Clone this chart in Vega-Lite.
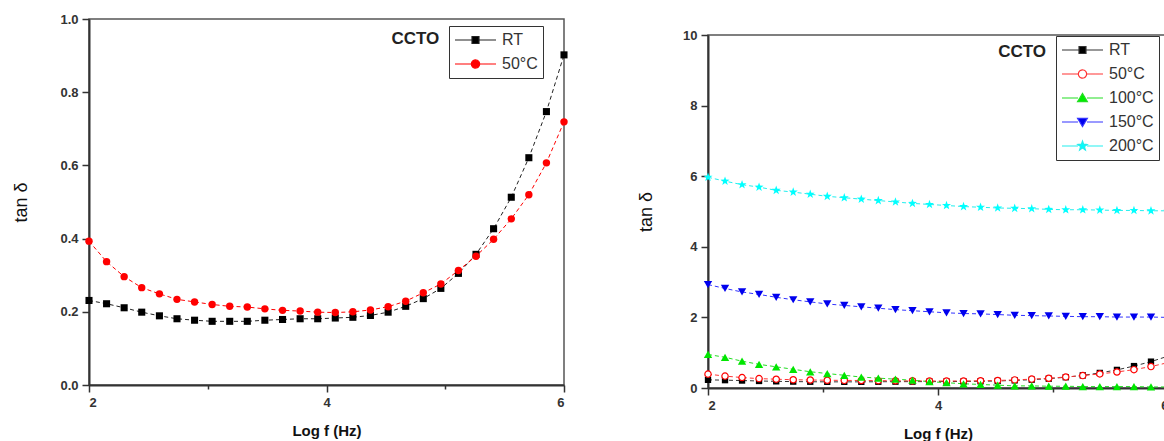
{
  "$schema": "https://vega.github.io/schema/vega-lite/v6.json",
  "padding": {"left": 12, "top": 12, "right": 0, "bottom": 0},
  "background": "white",
  "config": {
    "font": "Liberation Sans",
    "view": {"stroke": "#555", "strokeWidth": 1.5},
    "axis": {
      "grid": false,
      "domainColor": "#333",
      "domainWidth": 2,
      "tickColor": "#333",
      "tickWidth": 1.5,
      "labelFont": "Liberation Sans",
      "labelFontWeight": "bold",
      "labelFontSize": 13,
      "labelColor": "#333",
      "labelPadding": 4,
      "labelOverlap": false,
      "titleFont": "Liberation Sans",
      "titleColor": "#111"
    },
    "legend": {
      "orient": "none",
      "strokeColor": "#333",
      "fillColor": "white",
      "padding": 5,
      "rowPadding": 6,
      "clipHeight": 18,
      "symbolSize": 1681,
      "labelOffset": 5,
      "labelFont": "Liberation Sans",
      "labelFontSize": 16,
      "labelColor": "#333"
    }
  },
  "datasets": {
    "left": [
      {"s": "RT", "x": 2.000, "y": 0.231}, {"s": "RT", "x": 2.148, "y": 0.222}, {"s": "RT", "x": 2.296, "y": 0.211}, {"s": "RT", "x": 2.444, "y": 0.199},
      {"s": "RT", "x": 2.593, "y": 0.189}, {"s": "RT", "x": 2.741, "y": 0.181}, {"s": "RT", "x": 2.889, "y": 0.177}, {"s": "RT", "x": 3.037, "y": 0.174},
      {"s": "RT", "x": 3.185, "y": 0.174}, {"s": "RT", "x": 3.333, "y": 0.174}, {"s": "RT", "x": 3.481, "y": 0.177}, {"s": "RT", "x": 3.630, "y": 0.179},
      {"s": "RT", "x": 3.778, "y": 0.181}, {"s": "RT", "x": 3.926, "y": 0.181}, {"s": "RT", "x": 4.074, "y": 0.183}, {"s": "RT", "x": 4.222, "y": 0.185},
      {"s": "RT", "x": 4.370, "y": 0.190}, {"s": "RT", "x": 4.519, "y": 0.199}, {"s": "RT", "x": 4.667, "y": 0.215}, {"s": "RT", "x": 4.815, "y": 0.236},
      {"s": "RT", "x": 4.963, "y": 0.264}, {"s": "RT", "x": 5.111, "y": 0.305}, {"s": "RT", "x": 5.259, "y": 0.357}, {"s": "RT", "x": 5.407, "y": 0.427},
      {"s": "RT", "x": 5.556, "y": 0.513}, {"s": "RT", "x": 5.704, "y": 0.621}, {"s": "RT", "x": 5.852, "y": 0.747}, {"s": "RT", "x": 6.000, "y": 0.902},
      {"s": "50°C", "x": 2.000, "y": 0.393}, {"s": "50°C", "x": 2.148, "y": 0.337}, {"s": "50°C", "x": 2.296, "y": 0.296}, {"s": "50°C", "x": 2.444, "y": 0.266},
      {"s": "50°C", "x": 2.593, "y": 0.249}, {"s": "50°C", "x": 2.741, "y": 0.234}, {"s": "50°C", "x": 2.889, "y": 0.227}, {"s": "50°C", "x": 3.037, "y": 0.220},
      {"s": "50°C", "x": 3.185, "y": 0.215}, {"s": "50°C", "x": 3.333, "y": 0.213}, {"s": "50°C", "x": 3.481, "y": 0.208}, {"s": "50°C", "x": 3.630, "y": 0.204},
      {"s": "50°C", "x": 3.778, "y": 0.202}, {"s": "50°C", "x": 3.926, "y": 0.199}, {"s": "50°C", "x": 4.074, "y": 0.198}, {"s": "50°C", "x": 4.222, "y": 0.200},
      {"s": "50°C", "x": 4.370, "y": 0.205}, {"s": "50°C", "x": 4.519, "y": 0.214}, {"s": "50°C", "x": 4.667, "y": 0.229}, {"s": "50°C", "x": 4.815, "y": 0.252},
      {"s": "50°C", "x": 4.963, "y": 0.276}, {"s": "50°C", "x": 5.111, "y": 0.313}, {"s": "50°C", "x": 5.259, "y": 0.352}, {"s": "50°C", "x": 5.407, "y": 0.398},
      {"s": "50°C", "x": 5.556, "y": 0.454}, {"s": "50°C", "x": 5.704, "y": 0.520}, {"s": "50°C", "x": 5.852, "y": 0.607}, {"s": "50°C", "x": 6.000, "y": 0.719}
    ],
    "right": [
      {"s": "RT", "x": 2.000, "y": 0.231}, {"s": "RT", "x": 2.148, "y": 0.222}, {"s": "RT", "x": 2.296, "y": 0.211}, {"s": "RT", "x": 2.444, "y": 0.199},
      {"s": "RT", "x": 2.593, "y": 0.189}, {"s": "RT", "x": 2.741, "y": 0.181}, {"s": "RT", "x": 2.889, "y": 0.177}, {"s": "RT", "x": 3.037, "y": 0.174},
      {"s": "RT", "x": 3.185, "y": 0.174}, {"s": "RT", "x": 3.333, "y": 0.174}, {"s": "RT", "x": 3.481, "y": 0.177}, {"s": "RT", "x": 3.630, "y": 0.179},
      {"s": "RT", "x": 3.778, "y": 0.181}, {"s": "RT", "x": 3.926, "y": 0.181}, {"s": "RT", "x": 4.074, "y": 0.183}, {"s": "RT", "x": 4.222, "y": 0.185},
      {"s": "RT", "x": 4.370, "y": 0.190}, {"s": "RT", "x": 4.519, "y": 0.199}, {"s": "RT", "x": 4.667, "y": 0.215}, {"s": "RT", "x": 4.815, "y": 0.236},
      {"s": "RT", "x": 4.963, "y": 0.264}, {"s": "RT", "x": 5.111, "y": 0.305}, {"s": "RT", "x": 5.259, "y": 0.357}, {"s": "RT", "x": 5.407, "y": 0.427},
      {"s": "RT", "x": 5.556, "y": 0.513}, {"s": "RT", "x": 5.704, "y": 0.621}, {"s": "RT", "x": 5.852, "y": 0.747}, {"s": "RT", "x": 6.000, "y": 0.902},
      {"s": "50°C", "x": 2.000, "y": 0.393}, {"s": "50°C", "x": 2.148, "y": 0.337}, {"s": "50°C", "x": 2.296, "y": 0.296}, {"s": "50°C", "x": 2.444, "y": 0.266},
      {"s": "50°C", "x": 2.593, "y": 0.249}, {"s": "50°C", "x": 2.741, "y": 0.234}, {"s": "50°C", "x": 2.889, "y": 0.227}, {"s": "50°C", "x": 3.037, "y": 0.220},
      {"s": "50°C", "x": 3.185, "y": 0.215}, {"s": "50°C", "x": 3.333, "y": 0.213}, {"s": "50°C", "x": 3.481, "y": 0.208}, {"s": "50°C", "x": 3.630, "y": 0.204},
      {"s": "50°C", "x": 3.778, "y": 0.202}, {"s": "50°C", "x": 3.926, "y": 0.199}, {"s": "50°C", "x": 4.074, "y": 0.198}, {"s": "50°C", "x": 4.222, "y": 0.200},
      {"s": "50°C", "x": 4.370, "y": 0.205}, {"s": "50°C", "x": 4.519, "y": 0.214}, {"s": "50°C", "x": 4.667, "y": 0.229}, {"s": "50°C", "x": 4.815, "y": 0.252},
      {"s": "50°C", "x": 4.963, "y": 0.276}, {"s": "50°C", "x": 5.111, "y": 0.313}, {"s": "50°C", "x": 5.259, "y": 0.352}, {"s": "50°C", "x": 5.407, "y": 0.398},
      {"s": "50°C", "x": 5.556, "y": 0.454}, {"s": "50°C", "x": 5.704, "y": 0.520}, {"s": "50°C", "x": 5.852, "y": 0.607}, {"s": "50°C", "x": 6.000, "y": 0.719},
      {"s": "100°C", "x": 2.000, "y": 0.95}, {"s": "100°C", "x": 2.148, "y": 0.87}, {"s": "100°C", "x": 2.296, "y": 0.76}, {"s": "100°C", "x": 2.444, "y": 0.67},
      {"s": "100°C", "x": 2.593, "y": 0.60}, {"s": "100°C", "x": 2.741, "y": 0.53}, {"s": "100°C", "x": 2.889, "y": 0.46}, {"s": "100°C", "x": 3.037, "y": 0.41},
      {"s": "100°C", "x": 3.185, "y": 0.36}, {"s": "100°C", "x": 3.333, "y": 0.31}, {"s": "100°C", "x": 3.481, "y": 0.28}, {"s": "100°C", "x": 3.630, "y": 0.25},
      {"s": "100°C", "x": 3.778, "y": 0.22}, {"s": "100°C", "x": 3.926, "y": 0.18}, {"s": "100°C", "x": 4.074, "y": 0.15}, {"s": "100°C", "x": 4.222, "y": 0.12},
      {"s": "100°C", "x": 4.370, "y": 0.10}, {"s": "100°C", "x": 4.519, "y": 0.08}, {"s": "100°C", "x": 4.667, "y": 0.06}, {"s": "100°C", "x": 4.815, "y": 0.06},
      {"s": "100°C", "x": 4.963, "y": 0.05}, {"s": "100°C", "x": 5.111, "y": 0.05}, {"s": "100°C", "x": 5.259, "y": 0.04}, {"s": "100°C", "x": 5.407, "y": 0.04},
      {"s": "100°C", "x": 5.556, "y": 0.04}, {"s": "100°C", "x": 5.704, "y": 0.04}, {"s": "100°C", "x": 5.852, "y": 0.03}, {"s": "100°C", "x": 6.000, "y": 0.03},
      {"s": "150°C", "x": 2.000, "y": 2.93}, {"s": "150°C", "x": 2.148, "y": 2.82}, {"s": "150°C", "x": 2.296, "y": 2.72}, {"s": "150°C", "x": 2.444, "y": 2.65},
      {"s": "150°C", "x": 2.593, "y": 2.57}, {"s": "150°C", "x": 2.741, "y": 2.50}, {"s": "150°C", "x": 2.889, "y": 2.44}, {"s": "150°C", "x": 3.037, "y": 2.38},
      {"s": "150°C", "x": 3.185, "y": 2.34}, {"s": "150°C", "x": 3.333, "y": 2.30}, {"s": "150°C", "x": 3.481, "y": 2.26}, {"s": "150°C", "x": 3.630, "y": 2.22},
      {"s": "150°C", "x": 3.778, "y": 2.19}, {"s": "150°C", "x": 3.926, "y": 2.16}, {"s": "150°C", "x": 4.074, "y": 2.13}, {"s": "150°C", "x": 4.222, "y": 2.11},
      {"s": "150°C", "x": 4.370, "y": 2.10}, {"s": "150°C", "x": 4.519, "y": 2.08}, {"s": "150°C", "x": 4.667, "y": 2.06}, {"s": "150°C", "x": 4.815, "y": 2.05},
      {"s": "150°C", "x": 4.963, "y": 2.04}, {"s": "150°C", "x": 5.111, "y": 2.03}, {"s": "150°C", "x": 5.259, "y": 2.02}, {"s": "150°C", "x": 5.407, "y": 2.02},
      {"s": "150°C", "x": 5.556, "y": 2.01}, {"s": "150°C", "x": 5.704, "y": 2.01}, {"s": "150°C", "x": 5.852, "y": 2.01}, {"s": "150°C", "x": 6.000, "y": 2.00},
      {"s": "200°C", "x": 2.000, "y": 5.97}, {"s": "200°C", "x": 2.148, "y": 5.86}, {"s": "200°C", "x": 2.296, "y": 5.76}, {"s": "200°C", "x": 2.444, "y": 5.69},
      {"s": "200°C", "x": 2.593, "y": 5.60}, {"s": "200°C", "x": 2.741, "y": 5.55}, {"s": "200°C", "x": 2.889, "y": 5.49}, {"s": "200°C", "x": 3.037, "y": 5.43},
      {"s": "200°C", "x": 3.185, "y": 5.39}, {"s": "200°C", "x": 3.333, "y": 5.35}, {"s": "200°C", "x": 3.481, "y": 5.31}, {"s": "200°C", "x": 3.630, "y": 5.27},
      {"s": "200°C", "x": 3.778, "y": 5.23}, {"s": "200°C", "x": 3.926, "y": 5.20}, {"s": "200°C", "x": 4.074, "y": 5.17}, {"s": "200°C", "x": 4.222, "y": 5.14},
      {"s": "200°C", "x": 4.370, "y": 5.12}, {"s": "200°C", "x": 4.519, "y": 5.10}, {"s": "200°C", "x": 4.667, "y": 5.09}, {"s": "200°C", "x": 4.815, "y": 5.08},
      {"s": "200°C", "x": 4.963, "y": 5.06}, {"s": "200°C", "x": 5.111, "y": 5.05}, {"s": "200°C", "x": 5.259, "y": 5.05}, {"s": "200°C", "x": 5.407, "y": 5.04},
      {"s": "200°C", "x": 5.556, "y": 5.03}, {"s": "200°C", "x": 5.704, "y": 5.03}, {"s": "200°C", "x": 5.852, "y": 5.02}, {"s": "200°C", "x": 6.000, "y": 5.02}
    ]
  },
  "hconcat": [
    {
      "width": 475,
      "height": 366,
      "data": {"name": "left"},
      "layer": [
        {
          "mark": {"type": "line", "strokeWidth": 1, "strokeDash": [4, 3]},
          "encoding": {
            "x": {
              "field": "x", "type": "quantitative",
              "scale": {"domain": [2, 6], "nice": false, "zero": false},
              "axis": {
                "title": "Log f (Hz)", "titleFontSize": 15, "titleFontWeight": "bold", "titlePadding": 14,
                "values": [2, 3, 4, 5, 6],
                "labelExpr": "datum.value % 2 == 1 ? '' : format(datum.value, 'd')",
                "tickSize": {"condition": {"test": "datum.value % 2 == 1", "value": 4}, "value": 7}
              }
            },
            "y": {
              "field": "y", "type": "quantitative",
              "scale": {"domain": [0, 1], "nice": false},
              "axis": {
                "title": "tan δ", "titleFontSize": 18, "titleFontWeight": "normal", "titlePadding": 29,
                "values": [0, 0.1, 0.2, 0.3, 0.4, 0.5, 0.6, 0.7, 0.8, 0.9, 1.0],
                "labelExpr": "round(datum.value * 10) % 2 == 1 ? '' : format(datum.value, '.1f')",
                "tickSize": {"condition": {"test": "round(datum.value * 10) % 2 == 1", "value": 4}, "value": 7}
              }
            },
            "color": {
              "field": "s", "type": "nominal",
              "scale": {"domain": ["RT", "50°C"], "range": ["#222222", "#ff0000"]},
              "legend": {
                "title": null, "legendX": 360, "legendY": 7,
                "encode": {
                  "symbols": {
                    "update": {
                      "shape": {"signal": "datum.value == 'RT' ? 'M-1,0H-0.17M0.17,0H1M-0.17,-0.17H0.17V0.17H-0.17Z' : 'M-1,0H-0.2M0.2,0H1M-0.2,0A0.2,0.2 0 1,0 0.2,0A0.2,0.2 0 1,0 -0.2,0Z'"},
                      "fill": {"signal": "datum.value == 'RT' ? '#000000' : '#ff0000'"},
                      "strokeWidth": {"value": 1.2},
                      "strokeDash": {"value": [1, 0]}
                    }
                  }
                }
              }
            }
          }
        },
        {
          "transform": [{"filter": "datum.s == 'RT'"}],
          "mark": {"type": "point", "shape": "square", "filled": true, "color": "#000000", "size": 50, "opacity": 1},
          "encoding": {
            "x": {"field": "x", "type": "quantitative", "scale": {"domain": [2, 6], "nice": false, "zero": false}},
            "y": {"field": "y", "type": "quantitative", "scale": {"domain": [0, 1], "nice": false}}
          }
        },
        {
          "transform": [{"filter": "datum.s == '50°C'"}],
          "mark": {"type": "point", "shape": "circle", "filled": true, "color": "#ff0000", "size": 55, "opacity": 1},
          "encoding": {
            "x": {"field": "x", "type": "quantitative", "scale": {"domain": [2, 6], "nice": false, "zero": false}},
            "y": {"field": "y", "type": "quantitative", "scale": {"domain": [0, 1], "nice": false}}
          }
        },
        {
          "data": {"values": [{"label": "CCTO"}]},
          "mark": {"type": "text", "fontWeight": "bold", "fontSize": 17, "align": "right", "baseline": "middle", "color": "#222222"},
          "encoding": {
            "x": {"datum": 4.95, "type": "quantitative"},
            "y": {"datum": 0.946, "type": "quantitative"},
            "text": {"field": "label"}
          }
        }
      ]
    },
    {
      "spacing": 15,
      "bounds": "flush",
      "vconcat": [
        {
          "width": 460,
          "height": 1,
          "data": {"values": []},
          "mark": "point",
          "view": {"stroke": null}
        },
        {
          "width": 460,
          "height": 353,
          "data": {"name": "right"},
          "layer": [
            {
              "mark": {"type": "line", "strokeWidth": 1, "strokeDash": [4, 3]},
              "encoding": {
                "x": {
                  "field": "x", "type": "quantitative",
                  "scale": {"domain": [2, 6], "nice": false, "zero": false},
                  "axis": {
                    "title": "Log f (Hz)", "titleFontSize": 15, "titleFontWeight": "bold", "titlePadding": 14,
                    "values": [2, 3, 4, 5, 6],
                    "labelExpr": "datum.value % 2 == 1 ? '' : format(datum.value, 'd')",
                    "tickSize": {"condition": {"test": "datum.value % 2 == 1", "value": 4}, "value": 7}
                  }
                },
                "y": {
                  "field": "y", "type": "quantitative",
                  "scale": {"domain": [0, 10], "nice": false},
                  "axis": {
                    "title": "tan δ", "titleFontSize": 18, "titleFontWeight": "normal", "titlePadding": 27,
                    "values": [0, 1, 2, 3, 4, 5, 6, 7, 8, 9, 10],
                    "labelExpr": "datum.value % 2 == 1 ? '' : format(datum.value, 'd')",
                    "tickSize": {"condition": {"test": "datum.value % 2 == 1", "value": 4}, "value": 7}
                  }
                },
                "color": {
                  "field": "s", "type": "nominal",
                  "scale": {"domain": ["RT", "50°C", "100°C", "150°C", "200°C"], "range": ["#333333", "#ff3333", "#22dd22", "#3333ff", "#22eeee"]},
                  "legend": {
                    "title": null, "legendX": 348, "legendY": 17,
                    "encode": {
                      "symbols": {
                        "update": {
                          "shape": {"signal": "datum.value == 'RT' ? 'M-1,0H-0.17M0.17,0H1M-0.17,-0.17H0.17V0.17H-0.17Z' : datum.value == '50°C' ? 'M-1,0H-0.2M0.2,0H1M-0.2,0A0.2,0.2 0 1,0 0.2,0A0.2,0.2 0 1,0 -0.2,0Z' : datum.value == '100°C' ? 'M-1,0H-0.22M0.22,0H1M0,-0.22L0.24,0.18H-0.24Z' : datum.value == '150°C' ? 'M-1,0H-0.22M0.22,0H1M0,0.22L0.24,-0.18H-0.24Z' : 'M-1,0H-0.22M0.22,0H1M0,-0.24L0.056,-0.078L0.228,-0.074L0.092,0.03L0.141,0.194L0,0.096L-0.141,0.194L-0.092,0.03L-0.228,-0.074L-0.056,-0.078Z'"},
                          "fill": {"signal": "datum.value == 'RT' ? '#000000' : datum.value == '50°C' ? '#ffffff' : datum.value == '100°C' ? '#00ee00' : datum.value == '150°C' ? '#0000ee' : '#00ffff'"},
                          "strokeWidth": {"value": 1.2},
                          "strokeDash": {"value": [1, 0]}
                        }
                      }
                    }
                  }
                }
              }
            },
            {
              "transform": [{"filter": "datum.s == 'RT'"}],
              "mark": {"type": "point", "shape": "square", "filled": true, "color": "#000000", "size": 40, "opacity": 1},
              "encoding": {
                "x": {"field": "x", "type": "quantitative", "scale": {"domain": [2, 6], "nice": false, "zero": false}},
                "y": {"field": "y", "type": "quantitative", "scale": {"domain": [0, 10], "nice": false}}
              }
            },
            {
              "transform": [{"filter": "datum.s == '50°C'"}],
              "mark": {"type": "point", "shape": "circle", "filled": true, "fill": "#ffffff", "stroke": "#ff0000", "strokeWidth": 1.2, "size": 40, "opacity": 1},
              "encoding": {
                "x": {"field": "x", "type": "quantitative", "scale": {"domain": [2, 6], "nice": false, "zero": false}},
                "y": {"field": "y", "type": "quantitative", "scale": {"domain": [0, 10], "nice": false}}
              }
            },
            {
              "transform": [{"filter": "datum.s == '100°C'"}],
              "mark": {"type": "point", "shape": "triangle-up", "filled": true, "color": "#00e600", "size": 70, "opacity": 1},
              "encoding": {
                "x": {"field": "x", "type": "quantitative", "scale": {"domain": [2, 6], "nice": false, "zero": false}},
                "y": {"field": "y", "type": "quantitative", "scale": {"domain": [0, 10], "nice": false}}
              }
            },
            {
              "transform": [{"filter": "datum.s == '150°C'"}],
              "mark": {"type": "point", "shape": "triangle-down", "filled": true, "color": "#0000ee", "size": 70, "opacity": 1},
              "encoding": {
                "x": {"field": "x", "type": "quantitative", "scale": {"domain": [2, 6], "nice": false, "zero": false}},
                "y": {"field": "y", "type": "quantitative", "scale": {"domain": [0, 10], "nice": false}}
              }
            },
            {
              "transform": [{"filter": "datum.s == '200°C'"}],
              "mark": {"type": "point", "shape": "M0,-1L0.235,-0.324L0.951,-0.309L0.38,0.124L0.588,0.809L0,0.4L-0.588,0.809L-0.38,0.124L-0.951,-0.309L-0.235,-0.324Z", "filled": true, "color": "#00ffff", "size": 90, "opacity": 1},
              "encoding": {
                "x": {"field": "x", "type": "quantitative", "scale": {"domain": [2, 6], "nice": false, "zero": false}},
                "y": {"field": "y", "type": "quantitative", "scale": {"domain": [0, 10], "nice": false}}
              }
            },
            {
              "data": {"values": [{"label": "CCTO"}]},
              "mark": {"type": "text", "fontWeight": "bold", "fontSize": 17, "align": "right", "baseline": "middle", "color": "#222222"},
              "encoding": {
                "x": {"datum": 4.94, "type": "quantitative"},
                "y": {"datum": 9.52, "type": "quantitative"},
                "text": {"field": "label"}
              }
            }
          ]
        }
      ]
    }
  ],
  "spacing": 144,
  "bounds": "flush",
  "resolve": {
    "scale": {"color": "independent"},
    "legend": {"color": "independent"}
  }
}
